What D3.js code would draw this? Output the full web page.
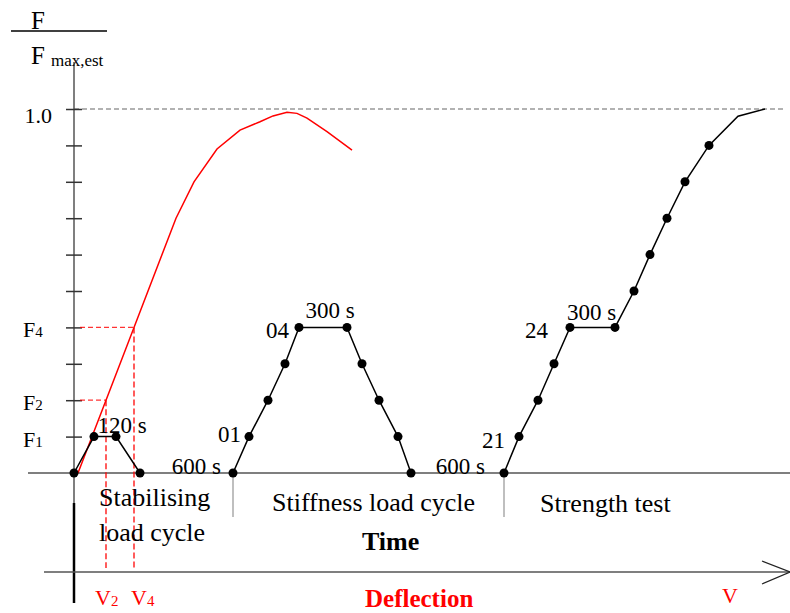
<!DOCTYPE html>
<html>
<head>
<meta charset="utf-8">
<script src="https://cdn.jsdelivr.net/npm/d3@7"></script>
<style>
  html, body { margin: 0; padding: 0; background: #fff; }
  svg { display: block; font-family: "Liberation Serif", "Times New Roman", serif; }
</style>
</head>
<body>
<svg id="chart" width="790" height="613"></svg>
<script>
// ---- data ----------------------------------------------------------
// load level F / Fmax,est against (schematic) time units
const stabTime   = [0, 2.0, 4.2, 6.6];
const stabLoad   = [0, 0.1, 0.1, 0];

const stiffTime  = [15.9, 17.5, 19.4, 21.1, 22.5, 27.3, 28.8, 30.5, 32.4, 33.7];
const stiffLoad  = [0, 0.1, 0.2, 0.3, 0.4, 0.4, 0.3, 0.2, 0.1, 0];

const strTime    = [43.0, 44.5, 46.4, 48.0, 49.6, 54.1, 56.0, 57.6, 59.3, 61.1, 63.5, 66.4, 69.1];
const strLoad    = [0, 0.1, 0.2, 0.3, 0.4, 0.4, 0.5, 0.6, 0.7, 0.8, 0.9, 0.98, 1.0];
const strDotCount = 11;            // last two points carry no marker

// load–deflection curve
const defl       = [0.4, 3.2, 6.0, 10.2, 12.0, 14.3, 16.6, 18.6, 19.9, 21.3, 22.3, 23.3, 25.3, 27.8];
const deflLoad   = [0, 0.2, 0.4, 0.70, 0.80, 0.89, 0.942, 0.965, 0.981, 0.991, 0.988, 0.975, 0.938, 0.887];

// y ticks and labelled levels
const yTicks       = [0.1, 0.2, 0.3, 0.4, 0.5, 0.6, 0.7, 0.8, 0.9, 1.0];
const levelNames   = ["F", "F", "F"];
const levelSubs    = ["1", "2", "4"];
const levelValues  = [0.1, 0.2, 0.4];
const maxLabel     = "1.0";
const maxValue     = 1.0;

// deflection levels read at F2 and F4
const vNames  = ["V", "V"];
const vSubs   = ["2", "4"];
const vLoads  = [0.2, 0.4];

// ---- scales ------------------------------------------------------------
const W = 790, H = 613;
const x = d3.scaleLinear().domain([0, 71.6]).range([74, 790]);      // time
const xd = d3.scaleLinear().domain([0, 71.6]).range([74, 790]);     // deflection
const y = d3.scaleLinear().domain([0, 1]).range([473, 109]);

const svg = d3.select("#chart");
const grey = "#555";
const red = "#ff0000";

// deflection interpolated from the curve for a given load (rising branch)
function deflAt(f) {
  for (let i = 1; i < deflLoad.length; i++) {
    if (deflLoad[i] >= f) {
      const t = (f - deflLoad[i - 1]) / (deflLoad[i] - deflLoad[i - 1]);
      return defl[i - 1] + t * (defl[i] - defl[i - 1]);
    }
  }
  return defl[defl.length - 1];
}

// ---- axes ------------------------------------------------------------
// dashed reference at Fmax,est
svg.append("line")
  .attr("x1", x(0)).attr("x2", x(70.9))
  .attr("y1", y(maxValue)).attr("y2", y(maxValue))
  .attr("stroke", "#666").attr("stroke-width", 1.2)
  .attr("stroke-dasharray", "5,3");

// time base line
svg.append("line")
  .attr("x1", 28).attr("x2", W)
  .attr("y1", y(0)).attr("y2", y(0))
  .attr("stroke", grey).attr("stroke-width", 1.5);

// vertical axis
svg.append("line")
  .attr("x1", x(0)).attr("x2", x(0))
  .attr("y1", 62).attr("y2", 503)
  .attr("stroke", grey).attr("stroke-width", 1.5);
svg.append("line")
  .attr("x1", x(0)).attr("x2", x(0))
  .attr("y1", 503).attr("y2", 603)
  .attr("stroke", "#000").attr("stroke-width", 2.5);

const yAxis = svg.append("g")
  .attr("transform", `translate(${x(0)},0)`)
  .call(d3.axisLeft(y).tickValues(yTicks).tickSize(8).tickFormat(""));
yAxis.select(".domain").remove();
yAxis.selectAll(".tick line")
  .attr("x1", 8).attr("stroke", "#333").attr("stroke-width", 1.5);

// separators between phases
[stiffTime[0], strTime[0]].forEach(t => {
  svg.append("line")
    .attr("x1", x(t)).attr("x2", x(t))
    .attr("y1", y(0)).attr("y2", 517)
    .attr("stroke", "#aaa").attr("stroke-width", 1.5);
});

// deflection axis with open arrow head
svg.append("line")
  .attr("x1", 44).attr("x2", W)
  .attr("y1", 572).attr("y2", 572)
  .attr("stroke", grey).attr("stroke-width", 1.5);
svg.append("path")
  .attr("d", `M762,561 L790,572 L762,584`)
  .attr("fill", "none").attr("stroke", "#222").attr("stroke-width", 1.2);

// ---- y labels -------------------------------------------------------
const frac = svg.append("g").attr("fill", "#000");
frac.append("text").attr("x", 31).attr("y", 29).attr("font-size", 25).text("F");
frac.append("line").attr("x1", 11).attr("x2", 107).attr("y1", 31).attr("y2", 31)
  .attr("stroke", "#000").attr("stroke-width", 1.6);
const fmax = frac.append("text").attr("x", 31).attr("y", 64).attr("font-size", 25);
fmax.append("tspan").text("F");
fmax.append("tspan").attr("dx", 6).attr("dy", 2).attr("font-size", 17).text("max,est");

svg.append("text")
  .attr("x", 52).attr("y", y(maxValue) + 14)
  .attr("text-anchor", "end").attr("font-size", 22)
  .text(maxLabel);

levelValues.forEach((v, i) => {
  const t = svg.append("text")
    .attr("x", 23).attr("y", y(v) + 10)
    .attr("font-size", 22);
  t.append("tspan").text(levelNames[i]);
  t.append("tspan").attr("font-size", 15).attr("dy", 0).text(levelSubs[i]);
});

// ---- load–deflection curve ----------------------------------------
const vDefl = vLoads.map(deflAt);
vLoads.forEach((f, i) => {
  svg.append("line")
    .attr("x1", x(0) + 6).attr("x2", xd(vDefl[i]))
    .attr("y1", y(f)).attr("y2", y(f))
    .attr("stroke", red).attr("stroke-opacity", 0.8).attr("stroke-width", 1.3)
    .attr("stroke-dasharray", "5,3");
  svg.append("line")
    .attr("x1", xd(vDefl[i])).attr("x2", xd(vDefl[i]))
    .attr("y1", y(f)).attr("y2", 568)
    .attr("stroke", red).attr("stroke-opacity", 0.8).attr("stroke-width", 1.6)
    .attr("stroke-dasharray", "6,3");
});

svg.append("path")
  .datum(defl.map((d, i) => [d, deflLoad[i]]))
  .attr("d", d3.line().x(d => xd(d[0])).y(d => y(d[1])))
  .attr("fill", "none").attr("stroke", red).attr("stroke-width", 1.5);

// ---- load–time path ----------------------------------------------
const lineT = d3.line().x(d => x(d[0])).y(d => y(d[1]));
const series = [
  { t: stabTime, f: stabLoad, dots: stabTime.length },
  { t: stiffTime, f: stiffLoad, dots: stiffTime.length },
  { t: strTime, f: strLoad, dots: strDotCount }
];
series.forEach(s => {
  const pts = s.t.map((t, i) => [t, s.f[i]]);
  svg.append("path").datum(pts)
    .attr("d", lineT)
    .attr("fill", "none").attr("stroke", "#000").attr("stroke-width", 1.5);
  svg.selectAll(null).data(pts.slice(0, s.dots)).enter()
    .append("circle")
    .attr("cx", d => x(d[0])).attr("cy", d => y(d[1]))
    .attr("r", 4.5).attr("fill", "#000");
});

// ---- annotations --------------------------------------------------
const ann = svg.append("g").attr("font-size", 23).attr("fill", "#000");
function note(txt, px, py, anchor) {
  ann.append("text").attr("x", px).attr("y", py)
    .attr("text-anchor", anchor || "start").text(txt);
}
note("120 s", (x(stabTime[1]) + x(stabTime[2])) / 2 + 17, y(stabLoad[1]) - 4, "middle");
note("600 s", x(stiffTime[0]) - 12, y(0) + 1, "end");
note("01", x(stiffTime[1]) - 8, y(stiffLoad[1]) + 5, "end");
note("04", x(stiffTime[4]) - 10, y(stiffLoad[4]) + 11, "end");
note("300 s", (x(stiffTime[4]) + x(stiffTime[5])) / 2 + 7, y(stiffLoad[4]) - 9, "middle");
note("600 s", x(strTime[0]) - 19, y(0) + 1, "end");
note("21", x(strTime[1]) - 14, y(strLoad[1]) + 11, "end");
note("24", x(strTime[4]) - 22, y(strLoad[4]) + 11, "end");
note("300 s", x(strTime[4]) - 3, y(strLoad[4]) - 7, "start");

const phase = svg.append("g").attr("font-size", 26).attr("fill", "#000");
phase.append("text").attr("x", 99).attr("y", 506).text("Stabilising");
phase.append("text").attr("x", 99).attr("y", 541).text("load cycle");
phase.append("text").attr("x", 272).attr("y", 511).text("Stiffness load cycle");
phase.append("text").attr("x", 540).attr("y", 512).text("Strength test");

svg.append("text").attr("x", 362).attr("y", 550)
  .attr("font-size", 26).attr("font-weight", "bold").text("Time");
svg.append("text").attr("x", 365).attr("y", 607)
  .attr("font-size", 25).attr("font-weight", "bold").attr("fill", red).text("Deflection");
svg.append("text").attr("x", 722).attr("y", 603)
  .attr("font-size", 22).attr("fill", red).text("V");

const vOff = [-11, -3];
vDefl.forEach((d, i) => {
  const t = svg.append("text")
    .attr("x", xd(d) + vOff[i]).attr("y", 605)
    .attr("font-size", 22).attr("fill", red);
  t.append("tspan").text(vNames[i]);
  t.append("tspan").attr("font-size", 15).attr("dy", 1).text(vSubs[i]);
});
</script>
</body>
</html>
